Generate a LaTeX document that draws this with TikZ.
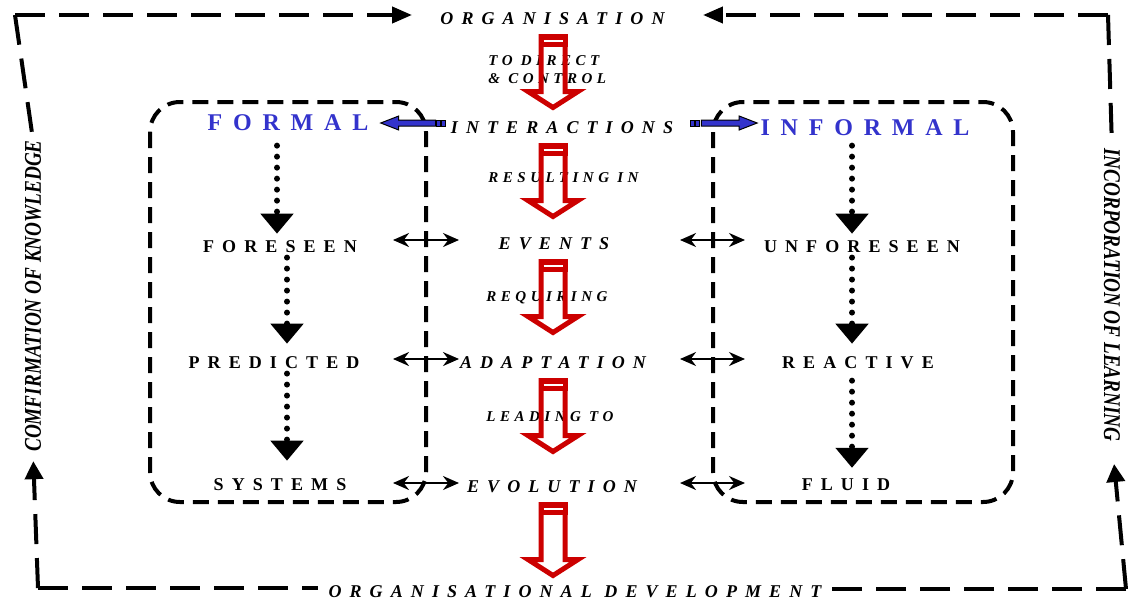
\documentclass[tikz,border=0pt]{standalone}
\usepackage{fontspec}
\setmainfont{Liberation Serif}
\newfontfamily\spaced[LetterSpace=45]{Liberation Serif}
\newfontfamily\spacedsmall[LetterSpace=30]{Liberation Serif}
\newfontfamily\narrowserif[FakeStretch=0.8]{Liberation Serif}
\usetikzlibrary{arrows.meta,calc}
\definecolor{arrowred}{RGB}{204,0,0}
\definecolor{formblue}{RGB}{51,51,204}

\newcommand{\redarrow}[1]{%
  \draw[hollow] let \p1=(axis |- #1.base) in
    (\x1-6pt,\y1-6.25pt) -- (\x1-6pt,\y1-33.75pt) -- (\x1-12.5pt,\y1-33.75pt)
    -- (\x1,\y1-41.75pt) -- (\x1+12.5pt,\y1-33.75pt) -- (\x1+6pt,\y1-33.75pt)
    -- (\x1+6pt,\y1-6.25pt) -- cycle;
  \fill[arrowred] let \p1=(axis |- #1.base) in
    (\x1-7.25pt,\y1-5pt) rectangle (\x1+7.25pt,\y1-11.5pt);
  \draw[white, line width=0.6pt] let \p1=(axis |- #1.base) in
    (\x1-4.75pt,\y1-8.5pt) -- (\x1+4.75pt,\y1-8.5pt);
}

\begin{document}
\begin{tikzpicture}[x=0.5pt, y=-0.5pt, line join=miter]
\tikzset{
  mainlbl/.style={font=\spaced\bfseries\itshape\fontsize{9}{11}\selectfont, inner sep=0pt, anchor=base},
  smalllbl/.style={font=\spacedsmall\bfseries\itshape\fontsize{7.5}{9}\selectfont, inner sep=0pt, anchor=base west},
  collbl/.style={font=\spaced\bfseries\fontsize{9}{11}\selectfont, inner sep=0pt, anchor=base},
  bluelbl/.style={font=\spaced\bfseries\fontsize{12}{14}\selectfont, text=formblue, inner sep=0pt, anchor=base},
  sidelbl/.style={font=\narrowserif\bfseries\itshape\fontsize{12}{14}\selectfont, inner sep=0pt},
  frame/.style={line width=2pt, dash pattern=on 15pt off 7pt},
  innerbox/.style={line width=2pt, dash pattern=on 8pt off 4.5pt, rounded corners=15pt},
  dotarrow/.style={line width=3pt, line cap=round, dash pattern=on 0pt off 5.5pt, -{Triangle[length=10pt,width=16pt]}},
  dblarrow/.style={line width=1pt, {Stealth[length=8pt,width=7pt]}-{Stealth[length=8pt,width=7pt]}},
  hollow/.style={draw=arrowred, line width=2.5pt},
  bluearr/.style={draw=black, fill=formblue, line width=0.5pt}
}
\useasboundingbox (0,0) rectangle (1128,600);

\coordinate (axis) at (553,0);
\coordinate (lsep) at (426,0);
\coordinate (rsep) at (713,0);
\coordinate (tl) at (15,15);
\coordinate (tr) at (1108,15);
\coordinate (bl) at (38,588);
\coordinate (br) at (1126,589);

% centre column
\node[mainlbl] (org) at (552.5,24) {ORGANISATION};
\node[smalllbl] (direct) at (488,65) {TO DIRECT};
\node[smalllbl] (control) at (488,83) {\& CONTROL};
\node[mainlbl] (interactions) at (562,133) {INTERACTIONS};
\node[smalllbl] (resulting) at (488,182) {RESULTING IN};
\node[mainlbl] (events) at (554,249) {EVENTS};
\node[smalllbl] (requiring) at (486,301) {REQUIRING};
\node[mainlbl] (adaptation) at (553,368) {ADAPTATION};
\node[smalllbl] (leading) at (486,421) {LEADING TO};
\node[mainlbl] (evolution) at (552,492) {EVOLUTION};
\node[mainlbl] (orgdev) at (575,597) {ORGANISATIONAL DEVELOPMENT};

% left and right columns
\node[bluelbl] (formal) at (288,130) {FORMAL};
\node[collbl] (foreseen) at (280,252) {FORESEEN};
\node[collbl] (predicted) at (274,368) {PREDICTED};
\node[collbl] (systems) at (280,490) {SYSTEMS};
\node[bluelbl] (informal) at (865,135) {INFORMAL};
\node[collbl] (unforeseen) at (862,252) {UNFORESEEN};
\node[collbl] (reactive) at (858,368) {REACTIVE};
\node[collbl] (fluid) at (846,490) {FLUID};

\node[sidelbl, rotate=90] (conf) at (33,296) {COMFIRMATION OF KNOWLEDGE};
\node[sidelbl, rotate=-90] (incorp) at (1112,295) {INCORPORATION OF LEARNING};

% outer frame
\draw[frame, -{Triangle[length=10pt,width=8pt]}, shorten >=14pt] (tl) -- (tl -| org.west);
\draw[frame, -{Triangle[length=10pt,width=8pt]}, shorten >=19pt] (tr) -- (tr -| org.east);
\draw[frame, shorten >=1pt] (tl) -- (conf.east);
\draw[frame, -{Triangle[length=9pt,width=9pt]}, shorten >=4.5pt] (bl) -- (conf.west);
\draw[frame, shorten >=6pt] (tr) -- (incorp.west);
\draw[frame, -{Triangle[length=9pt,width=9pt]}, shorten >=11pt] (br) -- (incorp.east);
\draw[frame, shorten >=5pt] (bl) -- (bl -| orgdev.west);
\draw[frame, shorten >=5pt] (br) -- (br -| orgdev.east);

% inner boxes
\draw[innerbox] (150,102) rectangle (lsep |- 0,502);
\draw[innerbox] (rsep |- 0,102) rectangle (1013,502);

% red arrows
\redarrow{org}
\redarrow{interactions}
\redarrow{events}
\redarrow{adaptation}
\redarrow{evolution}

% blue arrows
\draw[bluearr] let \p1=(formal.base east), \p2=(interactions.base west) in
  (\x1+6pt,\y1+3.5pt) -- (\x1+15pt,\y1+7pt) -- (\x1+15pt,\y1+5pt) -- (\x2-7.5pt,\y1+5pt)
  -- (\x2-7.5pt,\y1+2pt) -- (\x1+15pt,\y1+2pt) -- (\x1+15pt,\y1) -- cycle;
\draw[bluearr] let \p1=(formal.base east), \p2=(interactions.base west) in
  (\x2-7pt,\y1+2pt) rectangle (\x2-5pt,\y1+5pt) (\x2-4.5pt,\y1+2pt) rectangle (\x2-2.5pt,\y1+5pt);
\draw[bluearr] let \p1=(interactions.base east), \p2=(informal.base west) in
  (\x2-1.5pt,\y2+6pt) -- (\x2-10.5pt,\y2+9.5pt) -- (\x2-10.5pt,\y2+7.5pt) -- (\x1+14pt,\y2+7.5pt)
  -- (\x1+14pt,\y2+4.5pt) -- (\x2-10.5pt,\y2+4.5pt) -- (\x2-10.5pt,\y2+2.5pt) -- cycle;
\draw[bluearr] let \p1=(interactions.base east), \p2=(informal.base west) in
  (\x1+8.5pt,\y2+4.5pt) rectangle (\x1+10.5pt,\y2+7.5pt) (\x1+11pt,\y2+4.5pt) rectangle (\x1+13pt,\y2+7.5pt);

% dotted arrows
\draw[dotarrow] ([xshift=-5.5pt,yshift=-7.5pt]formal.south) -- ([xshift=-1.5pt,yshift=3pt]foreseen.north);
\draw[dotarrow] ([xshift=3.5pt,yshift=-2.5pt]foreseen.south) -- ([xshift=6.5pt,yshift=6pt]predicted.north);
\draw[dotarrow] ([xshift=6.5pt,yshift=-2.5pt]predicted.south) -- ([xshift=3.5pt,yshift=8.5pt]systems.north);
\draw[dotarrow] ([xshift=-6.5pt,yshift=-5pt]informal.south) -- ([xshift=-5pt,yshift=3pt]unforeseen.north);
\draw[dotarrow] ([xshift=-5pt,yshift=-2.5pt]unforeseen.south) -- ([xshift=-3pt,yshift=6pt]reactive.north);
\draw[dotarrow] ([xshift=-3pt,yshift=-6pt]reactive.south) -- ([xshift=3pt,yshift=5pt]fluid.north);

% double arrows across the box edges
\draw[dblarrow] ($(lsep |- events.base)+(-33,-9)$) -- ($(lsep |- events.base)+(33,-9)$);
\draw[dblarrow] ($(lsep |- adaptation.base)+(-33,-9)$) -- ($(lsep |- adaptation.base)+(33,-9)$);
\draw[dblarrow] ($(lsep |- evolution.base)+(-33,-9)$) -- ($(lsep |- evolution.base)+(33,-9)$);
\draw[dblarrow] ($(rsep |- events.base)+(-33,-9)$) -- ($(rsep |- events.base)+(32,-9)$);
\draw[dblarrow] ($(rsep |- adaptation.base)+(-33,-9)$) -- ($(rsep |- adaptation.base)+(32,-9)$);
\draw[dblarrow] ($(rsep |- evolution.base)+(-33,-9)$) -- ($(rsep |- evolution.base)+(32,-9)$);
\end{tikzpicture}
\end{document}
